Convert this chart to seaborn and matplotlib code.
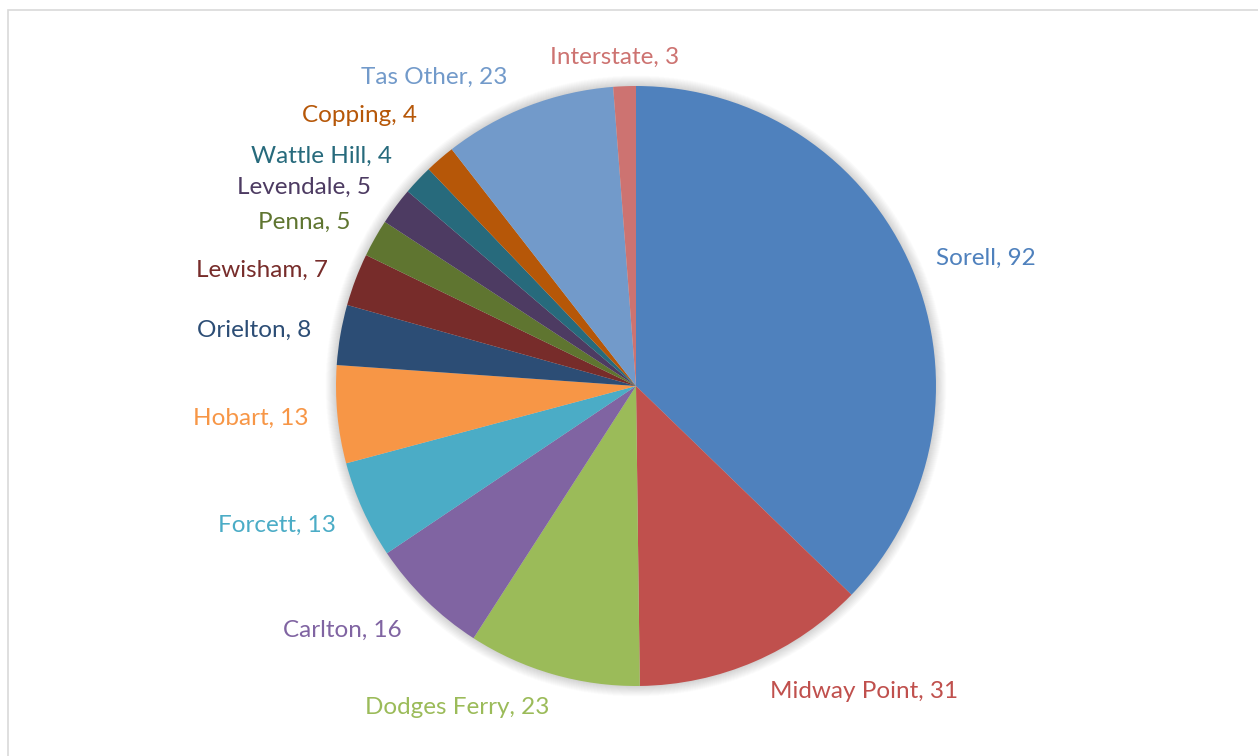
import matplotlib
matplotlib.use("Agg")
import matplotlib.pyplot as plt
import seaborn as sns
from matplotlib.patches import Circle, Rectangle

# Localities and counts, clockwise from 12 o'clock
localities = ["Sorell", "Midway Point", "Dodges Ferry", "Carlton", "Forcett",
              "Hobart", "Orielton", "Lewisham", "Penna", "Levendale",
              "Wattle Hill", "Copping", "Tas Other", "Interstate"]
counts = [92, 31, 23, 16, 13, 13, 8, 7, 5, 5, 4, 4, 23, 3]

# Office-style slice colours
slice_colors = ["#4F81BD", "#C0504D", "#9BBB59", "#8064A2", "#4BACC6",
                "#F79646", "#2C4D75", "#772C2A", "#5F7530", "#4D3B62",
                "#276A7C", "#B65708", "#729ACA", "#CD7371"]

# Label anchor points (in pie radii, relative to the pie centre)
label_pos = [(1.167, 0.427), (0.760, -1.020), (-0.597, -1.070), (-0.980, -0.813),
             (-1.197, -0.463), (-1.283, -0.107), (-1.273, 0.187), (-1.247, 0.387),
             (-1.107, 0.547), (-1.107, 0.663), (-1.047, 0.767), (-0.923, 0.900),
             (-0.673, 1.030), (-0.073, 1.097)]

sns.set_theme(style="white")
plt.rcParams["font.family"] = ["Lato", "DejaVu Sans"]

W, H = 1258, 756
fig = plt.figure(figsize=(W / 100, H / 100), dpi=100)
ax = fig.add_axes([0, 0, 1, 1])
R = 300.0
cx, cy = 636.0, H - 386.0

# soft glow behind the pie
n = 22
for i in range(n, 0, -1):
    ax.add_patch(Circle((0, 0), 1.0 + i * 0.0016, facecolor="#000000",
                        edgecolor="none", alpha=0.009, zorder=1))

wedges, _ = ax.pie(counts, colors=slice_colors, startangle=90, counterclock=False,
                   radius=1.0, center=(0, 0), frame=True,
                   wedgeprops=dict(linewidth=0, zorder=2, antialiased=True))
ax.set_xlim(-cx / R, (W - cx) / R)
ax.set_ylim(-cy / R, (H - cy) / R)
ax.set_aspect("auto")
ax.axis("off")

for name, val, col, (lx, ly) in zip(localities, counts, slice_colors, label_pos):
    ax.text(lx, ly, f"{name}, {val}", color=col, fontsize=17.5,
            ha="center", va="center", zorder=3)

# chart-area border
fig.patches.append(Rectangle((8 / W, -0.1), 1.2, 1 - 10 / H + 0.1,
                             transform=fig.transFigure, fill=False,
                             edgecolor="#d9d9d9", linewidth=1.2))

fig.savefig("out.png", dpi=100, facecolor="white")
